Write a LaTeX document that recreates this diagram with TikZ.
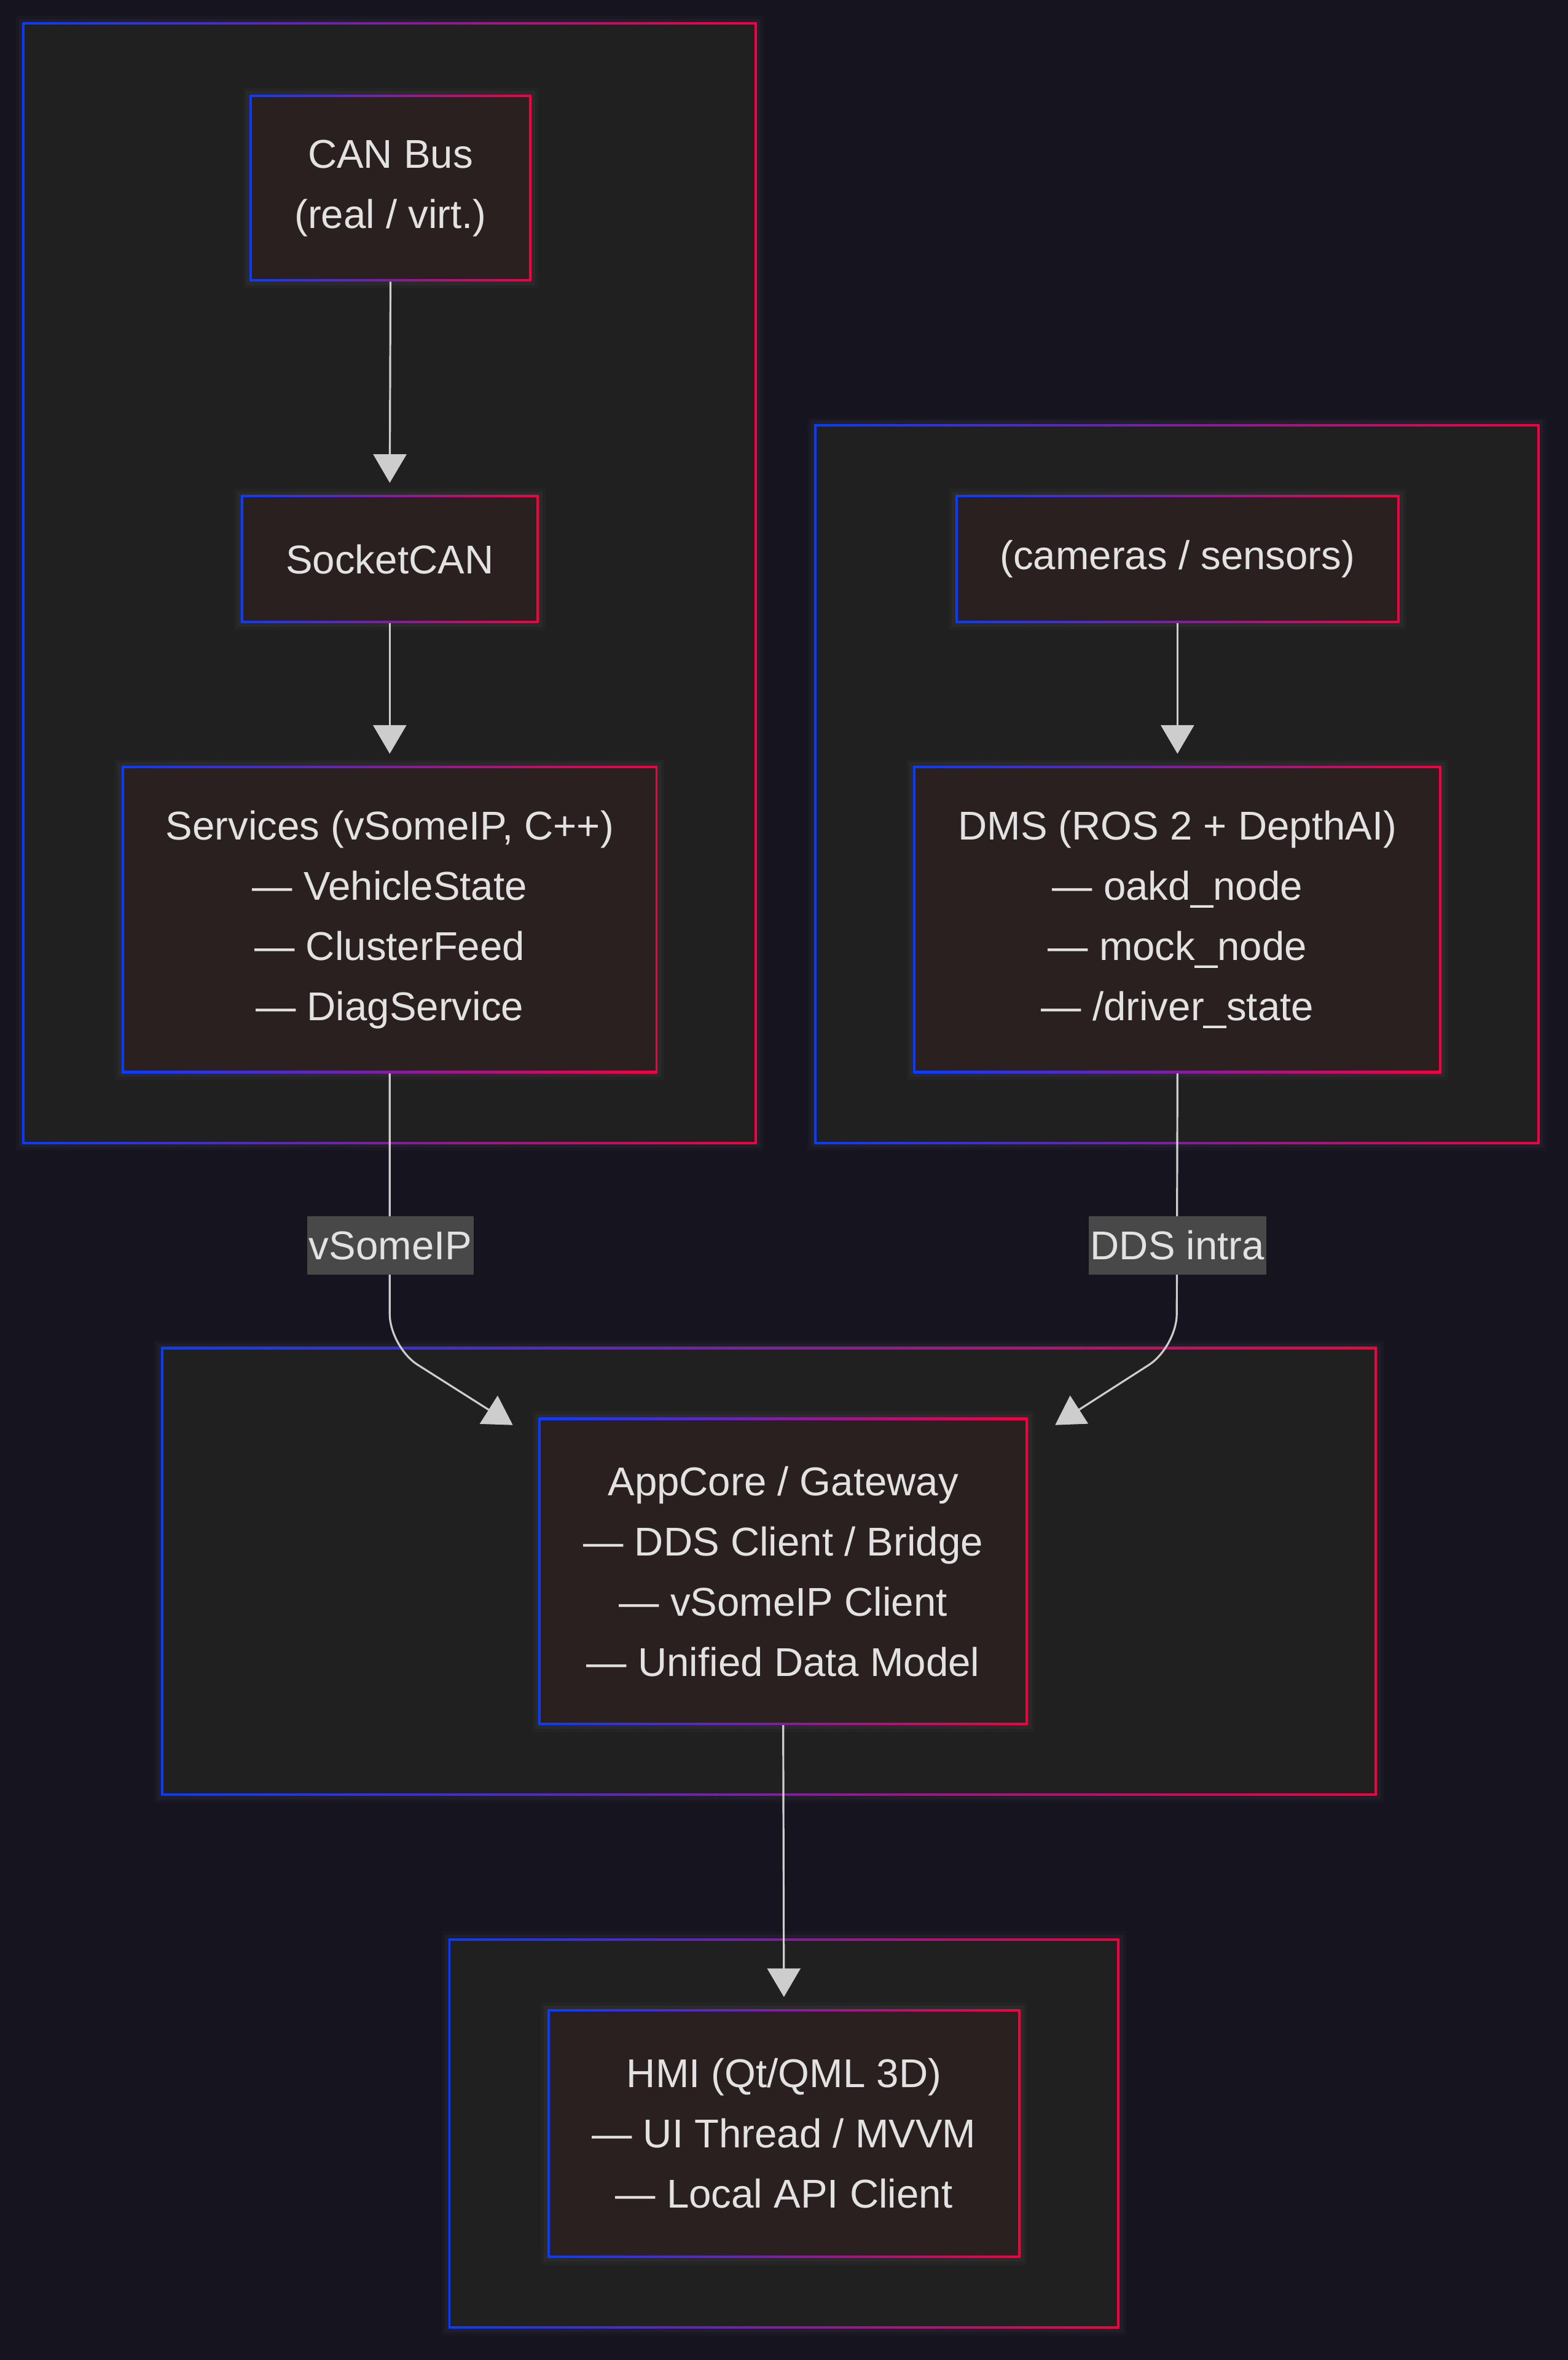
\documentclass[tikz,border=0pt]{standalone}
\usepackage{fontspec}
\setmainfont{Liberation Sans}
\usetikzlibrary{arrows.meta,positioning}
\definecolor{bgcol}{HTML}{15141F}
\definecolor{grpfill}{HTML}{202020}
\definecolor{boxfill}{HTML}{2B2020}
\definecolor{gblue}{HTML}{0A3CFF}
\definecolor{gred}{HTML}{F50041}
\definecolor{txtcol}{HTML}{E2E2E2}
\definecolor{edgecol}{HTML}{CDCDCD}
\definecolor{lblfill}{HTML}{474847}
\newcommand{\dfont}{\fontsize{26.7}{40}\selectfont}

\tikzset{
  gframe/.style={fill=#1, inner sep=0pt, text=txtcol, align=center, font=\dfont,
    path picture={
      \shade[left color=gblue, right color=gred]
        (path picture bounding box.south west) rectangle (path picture bounding box.north east);
      \fill[#1] ([shift={(1.5pt,1.5pt)}]path picture bounding box.south west)
        rectangle ([shift={(-1.5pt,-1.5pt)}]path picture bounding box.north east);
    }},
  glow/.style={preaction={draw=white, draw opacity=0.02, line width=9pt},
    preaction={draw=white, draw opacity=0.03, line width=5pt}},
  grp/.style={gframe=grpfill, glow},
  svc/.style={gframe=boxfill, glow},
  flow/.style={draw=edgecol, line width=1.3pt, rounded corners=22pt,
    -{Triangle[length=19pt,width=22pt]}},
  lbl/.style={fill=lblfill, text=txtcol, font=\dfont, inner xsep=1pt, inner ysep=0pt,
    minimum height=39}
}

\begin{document}
\begin{tikzpicture}[x=1pt,y=-1pt]
  \fill[bgcol] (0,0) rectangle (1042,1568);
  \useasboundingbox (0,0) rectangle (1042,1568);

  % clusters
  \node[grp, minimum width=488, minimum height=745] (grpVehicle) at (259,387.5) {};
  \node[grp, minimum width=482, minimum height=478] (grpDms) at (782,521) {};
  \node[grp, minimum width=808, minimum height=298] (grpCore) at (511,1044) {};
  \node[grp, minimum width=446, minimum height=259] (grpHmi) at (521,1417.5) {};

  % boxes
  \node[svc, minimum width=187, minimum height=124] (canBus) at (259.5,125) {CAN Bus\\(real / virt.)};
  \node[svc, minimum width=198, minimum height=85] (socketCan) at (259,371.5) {SocketCAN};
  \node[svc, minimum width=356, minimum height=204] (services) at (259,611)
    {Services (vSomeIP, C++)\\— VehicleState\\— ClusterFeed\\— DiagService};
  \node[svc, minimum width=295, minimum height=85] (cameras) at (782.5,371.5) {(cameras / sensors)};
  \node[svc, minimum width=351, minimum height=204] (dms) at (782.5,611)
    {DMS (ROS 2 + DepthAI)\\— oakd\_node\\— mock\_node\\— /driver\_state};
  \node[svc, minimum width=325, minimum height=204] (appCore) at (520.5,1044)
    {AppCore / Gateway\\— DDS Client / Bridge\\— vSomeIP Client\\— Unified Data Model};
  \node[svc, minimum width=314, minimum height=165] (hmi) at (521,1417.5)
    {HMI (Qt/QML 3D)\\— UI Thread / MVVM\\— Local API Client};

  \coordinate (inLeft) at ([xshift=-17pt,yshift=-5pt]appCore.north west);
  \coordinate (inRight) at ([xshift=18pt,yshift=-5pt]appCore.north east);

  % connectors
  \draw[flow, shorten >=8pt] (canBus.south) -- (socketCan.north);
  \draw[flow, shorten >=8pt] (socketCan.south) -- (services.north);
  \draw[flow, shorten >=8pt] (cameras.south) -- (dms.north);
  \draw[flow] (services.south) -- (259,895) -- (inLeft);
  \draw[flow] (dms.south) -- (782,895) -- (inRight);
  \draw[flow, shorten >=8pt] (appCore.south) -- (hmi.north);

  \node[lbl] (lblSomeip) at (259.5,827.5) {vSomeIP};
  \node[lbl] (lblDds) at (782.5,827.5) {DDS intra};
\end{tikzpicture}
\end{document}
